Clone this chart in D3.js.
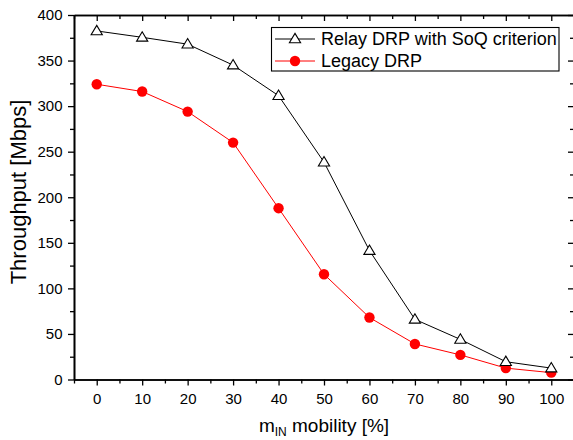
<!DOCTYPE html>
<html>
<head>
<meta charset="utf-8">
<script src="https://cdn.jsdelivr.net/npm/d3@7"></script>
<style>
  html, body { margin: 0; padding: 0; background: #fff; }
  svg { display: block; font-family: "Liberation Sans", Arial, sans-serif; }
</style>
</head>
<body>
<svg id="chart" width="573" height="440"></svg>
<script>
// Mobility of the m_IN nodes, in percent
const mobility = [0, 10, 20, 30, 40, 50, 60, 70, 80, 90, 100];
// Throughput [Mbps] of each scheme
const relayDRP = [382.5, 375.5, 368, 345, 311.5, 238.5, 141.5, 66, 44, 19.5, 12.5];
const legacyDRP = [324, 316, 294, 260, 188, 115.5, 68, 39, 27, 12.5, 7.5];
const seriesNames = ["Relay DRP with SoQ criterion", "Legacy DRP"];
const xTicks = [0, 10, 20, 30, 40, 50, 60, 70, 80, 90, 100];
const yTicks = [0, 50, 100, 150, 200, 250, 300, 350, 400];

const svg = d3.select("#chart");

const x = d3.scaleLinear().domain([-5, 105]).range([74, 574]);
const y = d3.scaleLinear().domain([0, 400]).range([379.5, 15]);

const xMinor = d3.range(-5, 106, 5).filter(v => v % 10 !== 0);
const yMinor = d3.range(25, 400, 50);

const axisStyle = g => {
  g.selectAll("path.domain").attr("stroke", "#000").attr("stroke-width", 1.6);
  g.selectAll(".tick line").attr("stroke", "#000").attr("stroke-width", 1.3);
  g.selectAll(".tick text").attr("fill", "#000").attr("font-size", 15)
    .attr("font-family", "'Liberation Sans', Arial, sans-serif");
};

// bottom axis with labels, plus minor ticks
svg.append("g").attr("transform", `translate(0,${y(0)})`)
  .call(d3.axisBottom(x).tickValues(xTicks).tickSize(6).tickSizeOuter(0).tickPadding(7.5))
  .call(axisStyle);
svg.append("g").attr("transform", `translate(0,${y(0)})`)
  .call(d3.axisBottom(x).tickValues(xMinor).tickSize(4).tickSizeOuter(0).tickFormat(""))
  .call(axisStyle);

// left axis with labels, plus minor ticks
svg.append("g").attr("transform", `translate(${x(-5)},0)`)
  .call(d3.axisLeft(y).tickValues(yTicks).tickSize(6).tickSizeOuter(0).tickPadding(5.5))
  .call(axisStyle);
svg.append("g").attr("transform", `translate(${x(-5)},0)`)
  .call(d3.axisLeft(y).tickValues(yMinor).tickSize(4).tickSizeOuter(0).tickFormat(""))
  .call(axisStyle);

// top axis: inward ticks only
svg.append("g").attr("transform", `translate(0,${y(400)})`)
  .call(d3.axisBottom(x).tickValues(xTicks).tickSize(6).tickSizeOuter(0).tickFormat(""))
  .call(axisStyle);
svg.append("g").attr("transform", `translate(0,${y(400)})`)
  .call(d3.axisBottom(x).tickValues(xMinor).tickSize(4).tickSizeOuter(0).tickFormat(""))
  .call(axisStyle);

// right axis: inward ticks only
svg.append("g").attr("transform", `translate(${x(105)},0)`)
  .call(d3.axisRight(y).tickValues(yTicks).tickSize(-6).tickSizeOuter(0).tickFormat(""))
  .call(axisStyle);
svg.append("g").attr("transform", `translate(${x(105)},0)`)
  .call(d3.axisRight(y).tickValues(yMinor).tickSize(-4).tickSizeOuter(0).tickFormat(""))
  .call(axisStyle);

const line = d3.line().x(d => x(d[0])).y(d => y(d[1]));
const relayPts = mobility.map((m, i) => [m, relayDRP[i]]);
const legacyPts = mobility.map((m, i) => [m, legacyDRP[i]]);

// triangle marker path centred on the point
const tri = (cx, cy) => {
  const w = 5.6, hTop = 5.6, hBot = 3.8;
  return `M${cx},${cy - hTop}L${cx + w},${cy + hBot}L${cx - w},${cy + hBot}Z`;
};

// Legacy DRP series
svg.append("path").datum(legacyPts).attr("d", line)
  .attr("fill", "none").attr("stroke", "#ff0000").attr("stroke-width", 1);
svg.append("g").selectAll("circle").data(legacyPts).join("circle")
  .attr("cx", d => x(d[0])).attr("cy", d => y(d[1])).attr("r", 5.2)
  .attr("fill", "#ff0000");

// Relay DRP series
svg.append("path").datum(relayPts).attr("d", line)
  .attr("fill", "none").attr("stroke", "#000").attr("stroke-width", 1);
svg.append("g").selectAll("path").data(relayPts).join("path")
  .attr("d", d => tri(x(d[0]), y(d[1])))
  .attr("fill", "#fff").attr("stroke", "#000").attr("stroke-width", 1.1);

// legend
const lg = svg.append("g");
lg.append("rect").attr("x", 271.5).attr("y", 27.5).attr("width", 287.5).attr("height", 43.5)
  .attr("fill", "#fff").attr("stroke", "#000").attr("stroke-width", 1.1);
lg.append("line").attr("x1", 275).attr("x2", 315).attr("y1", 39).attr("y2", 39)
  .attr("stroke", "#000").attr("stroke-width", 1);
lg.append("path").attr("d", tri(295, 39)).attr("fill", "#fff").attr("stroke", "#000").attr("stroke-width", 1.1);
lg.append("line").attr("x1", 275).attr("x2", 315).attr("y1", 61).attr("y2", 61)
  .attr("stroke", "#ff0000").attr("stroke-width", 1);
lg.append("circle").attr("cx", 295).attr("cy", 61).attr("r", 5.2).attr("fill", "#ff0000");
lg.append("text").attr("x", 321).attr("y", 45.3).attr("font-size", 18).text(seriesNames[0]);
lg.append("text").attr("x", 321).attr("y", 67).attr("font-size", 18).text(seriesNames[1]);

// axis titles
const xt = svg.append("text").attr("x", 324).attr("y", 431.5)
  .attr("text-anchor", "middle").attr("font-size", 19);
xt.append("tspan").text("m");
xt.append("tspan").attr("font-size", 12).attr("dy", 4).text("IN");
xt.append("tspan").attr("dy", -4).text(" mobility [%]");

svg.append("text")
  .attr("transform", `translate(26,192) rotate(-90)`)
  .attr("text-anchor", "middle").attr("font-size", 22)
  .text("Throughput [Mbps]");
</script>
</body>
</html>
